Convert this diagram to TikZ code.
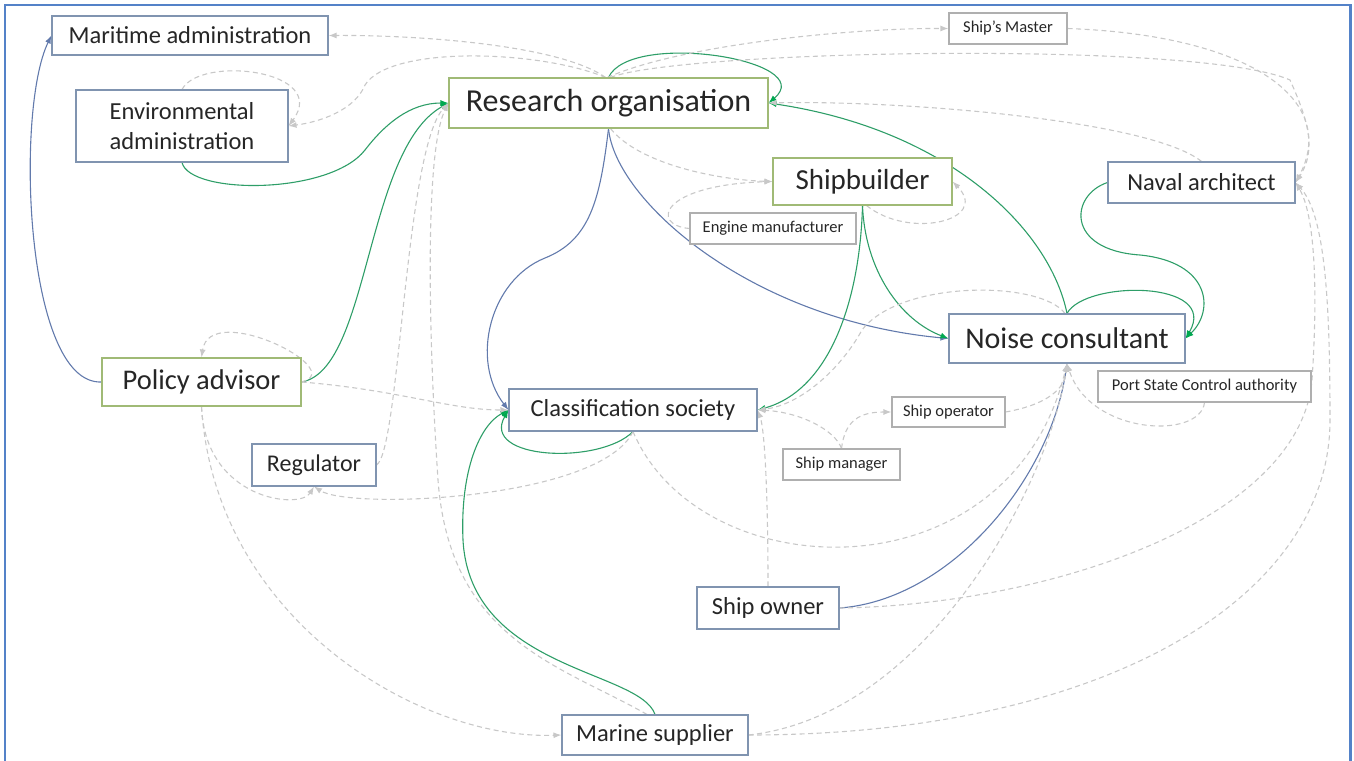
\documentclass[tikz,border=0pt]{standalone}
\usepackage{fontspec}
\setmainfont{Carlito}
\usetikzlibrary{arrows.meta, backgrounds}

\definecolor{framecol}{RGB}{84,130,200}
\definecolor{boxblue}{RGB}{128,148,176}
\definecolor{boxgreen}{RGB}{160,186,118}
\definecolor{boxgray}{RGB}{175,175,175}
\definecolor{linkgreen}{RGB}{46,158,104}
\definecolor{tipgreen}{RGB}{0,168,80}
\definecolor{linkblue}{RGB}{98,122,172}
\definecolor{linkgray}{RGB}{200,200,200}
\definecolor{txt}{RGB}{38,38,38}

\begin{document}
\begin{tikzpicture}[
  x=1pt, y=-1pt,
  box/.style={draw, line width=1.1pt, fill=white, text=txt, align=center, inner sep=0pt},
  bluebox/.style={box, draw=boxblue},
  greenbox/.style={box, draw=boxgreen},
  graybox/.style={box, draw=boxgray, font=\fontsize{16.5}{20}\selectfont},
  midtext/.style={font=\fontsize{24.5}{30}\selectfont},
  bluelink/.style={-{Latex[length=8pt,width=6pt]}, line width=1.1pt, linkblue},
  greenlink/.style={-{Latex[length=8pt,width=6pt,color=tipgreen]}, line width=1.1pt, linkgreen},
  graylink/.style={-{Latex[length=8pt,width=6pt]}, line width=1.1pt, linkgray, dash pattern=on 5pt off 3.5pt}
]
\useasboundingbox (0,0) rectangle (1354,760);
\draw[framecol, line width=2.5pt] (5,770) -- (5,5) -- (1350.5,5) -- (1350.5,770);
% --- actors ---
\node[bluebox, midtext, minimum width=276pt, minimum height=39pt] (mar) at (190,35.5) {Maritime administration};
\node[bluebox, midtext, minimum width=212pt, minimum height=72pt] (env) at (182,126) {Environmental\\administration};
\node[greenbox, font=\fontsize{32}{38}\selectfont, minimum width=319pt, minimum height=50pt] (res) at (608.5,103) {Research organisation};
\node[graybox, minimum width=118pt, minimum height=31pt] (master) at (1008,28.5) {Ship’s Master};
\node[greenbox, font=\fontsize{29}{35}\selectfont, minimum width=179pt, minimum height=47pt] (sb) at (862.5,181.5) {Shipbuilder};
\node[graybox, minimum width=166pt, minimum height=31pt] (eng) at (773,228.5) {Engine manufacturer};
\node[bluebox, midtext, minimum width=187pt, minimum height=41pt] (naval) at (1201.5,182.5) {Naval architect};
\node[bluebox, font=\fontsize{30}{36}\selectfont, minimum width=236pt, minimum height=49pt] (noise) at (1067,338.5) {Noise consultant};
\node[graybox, minimum width=213pt, minimum height=31pt] (psc) at (1204.5,386.5) {Port State Control authority};
\node[greenbox, font=\fontsize{28.5}{34}\selectfont, minimum width=199pt, minimum height=48pt] (policy) at (201.5,382) {Policy advisor};
\node[bluebox, midtext, minimum width=248pt, minimum height=42pt] (class) at (633,410) {Classification society};
\node[graybox, minimum width=113pt, minimum height=30pt] (operator) at (948.5,412) {Ship operator};
\node[graybox, minimum width=117pt, minimum height=31pt] (manager) at (841.5,464.5) {Ship manager};
\node[bluebox, font=\fontsize{24}{29}\selectfont, minimum width=124pt, minimum height=42pt] (reg) at (314,465) {Regulator};
\node[bluebox, midtext, minimum width=142pt, minimum height=42pt] (owner) at (768,608) {Ship owner};
\node[bluebox, midtext, minimum width=186pt, minimum height=40pt] (supplier) at (655,735) {Marine supplier};
\begin{scope}[on background layer]
% --- blue links ---
\draw[bluelink] (policy.west) .. controls (25,385) and (15,110) .. (mar.west);
\draw[bluelink] (res.south) .. controls (600,200) and (590,240) .. (545,258) .. controls (490,280) and (470,360) .. (class.west);
\draw[bluelink] (res.south) .. controls (615,200) and (750,320) .. (noise.west);
\draw[bluelink] (owner.east) .. controls (950,600) and (1050,480) .. (noise.south);
% --- green links ---
\draw[greenlink] (env.south) .. controls (190,195) and (330,195) .. (365,150) .. controls (385,124) and (410,103) .. (res.west);
\draw[greenlink] (policy.east) .. controls (370,370) and (365,150) .. (res.west);
\draw[greenlink] (res.north) .. controls (630,30) and (820,60) .. (res.east);
\draw[greenlink] (noise.north) .. controls (1050,230) and (950,130) .. (res.east);
\draw[greenlink] (noise.north) .. controls (1085,280) and (1220,280) .. (noise.east);
\draw[greenlink] (naval.west) .. controls (1070,195) and (1065,250) .. (1140,255) .. controls (1210,262) and (1215,310) .. (noise.east);
\draw[greenlink] (sb.south) .. controls (865,270) and (900,320) .. (noise.west);
\draw[greenlink] (sb.south) .. controls (860,300) and (830,390) .. (class.east);
\draw[greenlink] (supplier.north) .. controls (640,670) and (470,670) .. (463,540) .. controls (460,470) and (480,425) .. (class.west);
\draw[greenlink] (class.south) .. controls (600,465) and (480,460) .. (class.west);
% --- dashed links ---
\draw[graylink] ([xshift=-3pt]res.north) .. controls (560,45) and (420,35) .. (mar.east);
\draw[graylink] ([xshift=-3pt]res.north) .. controls (540,50) and (390,45) .. (365,85) .. controls (355,110) and (320,122) .. (env.east);
\draw[graylink] (env.north) .. controls (200,55) and (330,70) .. (env.east);
\draw[graylink] ([xshift=-1pt]res.north) .. controls (680,45) and (850,28) .. (master.west);
\draw[graylink] (master.east) .. controls (1250,35) and (1340,100) .. (naval.east);
\draw[graylink] ([xshift=2pt]res.north) .. controls (680,50) and (1200,40) .. (1290,80) .. controls (1308,120) and (1317,150) .. (naval.east);
\draw[graylink] (naval.north) .. controls (1150,120) and (900,100) .. (res.east);
\draw[graylink] ([xshift=2pt]res.south) .. controls (640,165) and (720,180) .. (sb.west);
\draw[graylink] (eng.west) .. controls (650,225) and (660,185) .. (sb.west);
\draw[graylink] ([xshift=4pt]sb.south) .. controls (910,240) and (990,220) .. (sb.east);
\draw[graylink] (policy.east) .. controls (350,370) and (210,300) .. (policy.north);
\draw[graylink] (policy.east) .. controls (400,390) and (450,410) .. (class.west);
\draw[graylink] (policy.south) .. controls (205,500) and (300,510) .. (reg.south);
\draw[graylink] (class.south) .. controls (600,500) and (350,510) .. (reg.south);
\draw[graylink] (policy.south) .. controls (215,620) and (420,740) .. (supplier.west);
\draw[graylink] (reg.east) .. controls (400,450) and (405,150) .. (res.west);
\draw[graylink] ([xshift=-8pt]supplier.north) .. controls (560,665) and (450,640) .. (438,480) .. controls (428,330) and (425,150) .. (res.west);
\draw[graylink] (owner.north) .. controls (768,500) and (765,430) .. (class.east);
\draw[graylink] (manager.north) .. controls (835,430) and (800,412) .. (class.east);
\draw[graylink] (manager.north) .. controls (845,420) and (860,412) .. (operator.west);
\draw[graylink] (operator.east) .. controls (1045,405) and (1065,390) .. (noise.south);
\draw[graylink] ([xshift=-2pt]noise.north) .. controls (1040,280) and (900,280) .. (862,330) .. controls (840,370) and (800,405) .. (class.east);
\draw[graylink] (psc.south) .. controls (1200,440) and (1090,435) .. (noise.south);
\draw[graylink] (class.south) .. controls (700,590) and (1010,600) .. (noise.south);
\draw[graylink] (supplier.east) .. controls (930,715) and (1050,480) .. (noise.south);
\draw[graylink] (supplier.east) .. controls (1100,735) and (1330,600) .. (1330,420) .. controls (1330,300) and (1325,215) .. (naval.east);
\draw[graylink] (owner.east) .. controls (1050,605) and (1300,520) .. (1312,380) .. controls (1318,290) and (1315,215) .. (naval.east);
\end{scope}
\end{tikzpicture}
\end{document}
